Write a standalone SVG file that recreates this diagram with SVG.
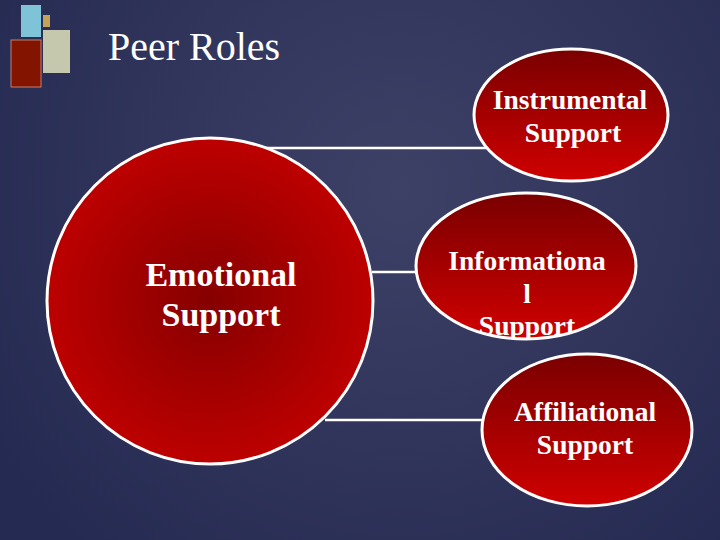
<svg xmlns="http://www.w3.org/2000/svg" width="720" height="540" viewBox="0 0 720 540">
<defs>
<radialGradient id="bg" cx="400" cy="190" r="480" gradientUnits="userSpaceOnUse">
<stop offset="0" stop-color="#3e4166"/>
<stop offset="1" stop-color="#252a52"/>
</radialGradient>
<radialGradient id="big" cx="0.5" cy="0.5" r="0.5">
<stop offset="0" stop-color="#860000"/>
<stop offset="1" stop-color="#bd0000"/>
</radialGradient>
<linearGradient id="ell" x1="0" y1="0" x2="0" y2="1">
<stop offset="0" stop-color="#7a0000"/>
<stop offset="1" stop-color="#d00000"/>
</linearGradient>
<clipPath id="clipInfo"><ellipse cx="526" cy="266" rx="110" ry="73"/></clipPath>
<style>
.node{stroke:#ffffff;stroke-width:3}
.lbl{font-family:"Liberation Serif","Times New Roman",serif;font-weight:bold;fill:#ffffff;text-anchor:middle}
.conn{stroke:#ffffff;stroke-width:2.5;fill:none}
</style>
</defs>
<rect width="720" height="540" fill="url(#bg)"/>
<g id="decor">
<rect x="21" y="5" width="20" height="32" fill="#7ec3d8"/>
<rect x="43" y="15" width="7" height="12" fill="#c4a25a"/>
<rect x="11" y="40" width="30" height="47" fill="#821400" stroke="#c08070" stroke-width="1"/>
<rect x="43" y="30" width="27" height="43" fill="#c5c8ad"/>
</g>
<text id="title" x="108" y="60" font-family="Liberation Serif,'Times New Roman',serif" font-size="40" fill="#ffffff">Peer Roles</text>
<g id="connectors">
<line class="conn" x1="265" y1="148" x2="495" y2="148"/>
<line class="conn" x1="372" y1="272" x2="418" y2="272"/>
<line class="conn" x1="325" y1="420" x2="486" y2="420"/>
</g>
<g id="emotional">
<circle class="node" cx="210" cy="301" r="163" fill="url(#big)"/>
<text class="lbl" font-size="34" x="221" y="286">Emotional</text>
<text class="lbl" font-size="34" x="221" y="326">Support</text>
</g>
<g id="instrumental">
<ellipse class="node" cx="571" cy="115" rx="97" ry="66" fill="url(#ell)"/>
<text class="lbl" font-size="27.5" x="570" y="109">Instrumental</text>
<text class="lbl" font-size="27.5" x="573" y="142">Support</text>
</g>
<g id="informational">
<ellipse cx="526" cy="266" rx="110" ry="73" fill="url(#ell)"/>
<g clip-path="url(#clipInfo)">
<text class="lbl" font-size="27.5" x="527" y="270">Informationa</text>
<text class="lbl" font-size="27.5" x="527" y="303">l</text>
<text class="lbl" font-size="27.5" x="527" y="335">Support</text>
</g>
<ellipse class="node" cx="526" cy="266" rx="110" ry="73" fill="none"/>
</g>
<g id="affiliational">
<ellipse class="node" cx="587" cy="430" rx="105" ry="76" fill="url(#ell)"/>
<text class="lbl" font-size="27.5" x="585" y="421">Affiliational</text>
<text class="lbl" font-size="27.5" x="585" y="454">Support</text>
</g>
</svg>
